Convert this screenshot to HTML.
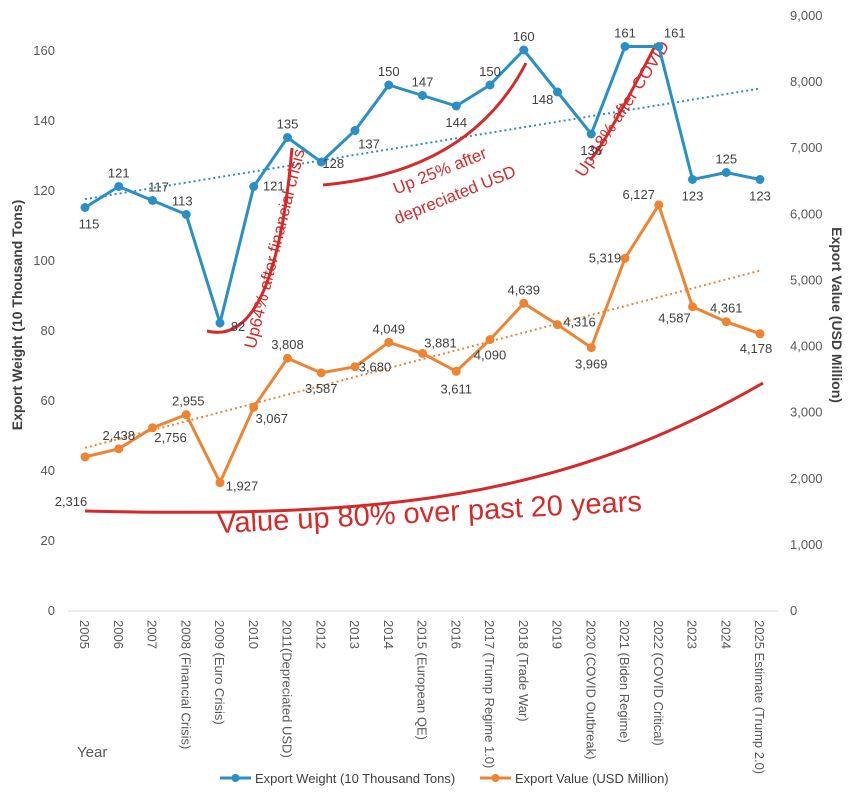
<!DOCTYPE html>
<html><head><meta charset="utf-8">
<style>
body{margin:0;background:#fff;}
svg text{font-family:"Liberation Sans",sans-serif;}
</style></head>
<body>
<svg id="chart" width="857" height="795" viewBox="0 0 857 795">
</svg>
<script>
const categories=["2005","2006","2007","2008 (Financial Crisis)","2009 (Euro Crisis)","2010","2011(Depreciated USD)","2012","2013","2014","2015 (European QE)","2016","2017 (Trump Regime 1.0)","2018 (Trade War)","2019","2020 (COVID Outbreak)","2021 (Biden Regime)","2022 (COVID Critical)","2023","2024","2025 Estimate (Trump 2.0)"];
const weightValues=[115,121,117,113,82,121,135,128,137,150,147,144,150,160,148,136,161,161,123,125,123];
const exportValues=[2316,2438,2756,2955,1927,3067,3808,3587,3680,4049,3881,3611,4090,4639,4316,3969,5319,6127,4587,4361,4178];
const leftTicks=[0,20,40,60,80,100,120,140,160];
const rightTicks=[0,1000,2000,3000,4000,5000,6000,7000,8000,9000];

const NS="http://www.w3.org/2000/svg";
const svg=document.getElementById('chart');
const X0=85,DX=33.75,Y0=610;
const x=i=>X0+i*DX;
const yL=v=>Y0-v*3.5;
const yR=v=>Y0-v*595/9000;
function el(tag,attrs,parent){const e=document.createElementNS(NS,tag);for(const k in attrs)e.setAttribute(k,attrs[k]);(parent||svg).appendChild(e);return e;}
function txt(s,attrs,parent){const e=el('text',attrs,parent);e.textContent=s;return e;}
const blue="#2a8fc4",orange="#ee8432",red="#d42a2a";

let a=el('line',{x1:68,x2:778,y1:611,y2:611,stroke:'#d9d9d9'});



leftTicks.forEach(t=>{const e=txt(t.toLocaleString('en-US'),{x:55,y:yL(t)+5,'text-anchor':'end','font-size':13,fill:'#595959'});

});
rightTicks.forEach(t=>{const e=txt(t.toLocaleString('en-US'),{x:790,y:yR(t)+5,'font-size':13,fill:'#595959'});

});
categories.forEach((c,i)=>{const e=txt(c,{x:0,y:0,transform:`translate(${x(i)-5},620) rotate(90)`,'font-size':13,fill:'#595959'});

});

let t=txt('Export Weight (10 Thousand Tons)',{x:0,y:0,transform:'translate(22,315) rotate(-90)','text-anchor':'middle','font-size':14,'font-weight':'bold',fill:'#404040'});


t=txt('Export Value (USD Million)',{x:0,y:0,transform:'translate(832,315) rotate(90)','text-anchor':'middle','font-size':14,'font-weight':'bold',fill:'#404040'});


t=txt('Year',{x:77,y:757,'font-size':15,fill:'#595959'});



function fit(vals,yf,color,name){const n=vals.length;let sx=0,sy=0,sxx=0,sxy=0;vals.forEach((v,i)=>{sx+=i;sy+=v;sxx+=i*i;sxy+=i*v;});
const b=(n*sxy-sx*sy)/(n*sxx-sx*sx),a0=(sy-b*sx)/n;
const l=el('line',{x1:x(0),y1:yf(a0),x2:x(n-1),y2:yf(a0+b*(n-1)),stroke:color,'stroke-width':2,'stroke-dasharray':'2,3'});

}
fit(weightValues,yL,blue,'weight-trendline');
fit(exportValues,yR,orange,'value-trendline');

const curves=[["M207,331 Q275,348 292,148",'financial-crisis-curve'],["M323,185 Q470,172 526,63",'depreciated-usd-curve'],["M590,160 Q603,148 656,44",'covid-curve'],["M85,511 C380,518 560,500 763,383",'twenty-year-curve']];
curves.forEach(c=>{const p=el('path',{d:c[0],fill:'none',stroke:red,'stroke-width':3});

});
const notes=[["Up64% after financial crisis",280,250,-76,17],["Up 25% after",442,176,-22,17],["depreciated USD",457,200,-22,17],["Up 18% after COVID",627,112,-57,17],["Value up 80% over past 20 years",430,522,-3,29]];
notes.forEach(n=>{const e=txt(n[0],{x:0,y:0,transform:`translate(${n[1]},${n[2]}) rotate(${n[3]})`,'text-anchor':'middle','font-size':n[4],fill:red});

});

function series(vals,yf,color,name,offs){
const p=el('polyline',{points:vals.map((v,i)=>x(i)+','+yf(v)).join(' '),fill:'none',stroke:color,'stroke-width':3});


vals.forEach((v,i)=>{const c=el('circle',{cx:x(i),cy:yf(v),r:4.5,fill:color});


const o=offs[i];const l=txt(v.toLocaleString('en-US'),{x:x(i)+o[0],y:yf(v)+o[1],'text-anchor':'middle','font-size':13,fill:'#404040'});

});}
series(weightValues,yL,blue,'weight',[[4,21],[0,-9],[6,-9],[-4,-9],[18,8],[20,4],[0,-9],[12,6],[14,18],[0,-9],[0,-9],[0,21],[0,-9],[0,-9],[-15,12],[0,21],[0,-9],[16,-9],[0,21],[0,-9],[0,21]]);
series(exportValues,yR,orange,'value',[[-14,49],[0,-9],[18,14],[2,-9],[22,8],[18,16],[0,-9],[0,20],[20,5],[0,-9],[18,-6],[0,22],[0,20],[0,-9],[22,2],[0,21],[-20,4],[-20,-6],[-18,16],[0,-9],[-4,19]]);

const lg=el('g',{});


[[220,blue,'Export Weight (10 Thousand Tons)','legend-weight'],[480,orange,'Export Value (USD Million)','legend-value']].forEach(d=>{
const g=el('g',{},lg);


el('line',{x1:d[0],x2:d[0]+31,y1:778,y2:778,stroke:d[1],'stroke-width':3},g);
el('circle',{cx:d[0]+15.5,cy:778,r:4,fill:d[1]},g);
txt(d[2],{x:d[0]+35,y:783,'font-size':13,fill:'#404040'},g);});
</script>
</body></html>
